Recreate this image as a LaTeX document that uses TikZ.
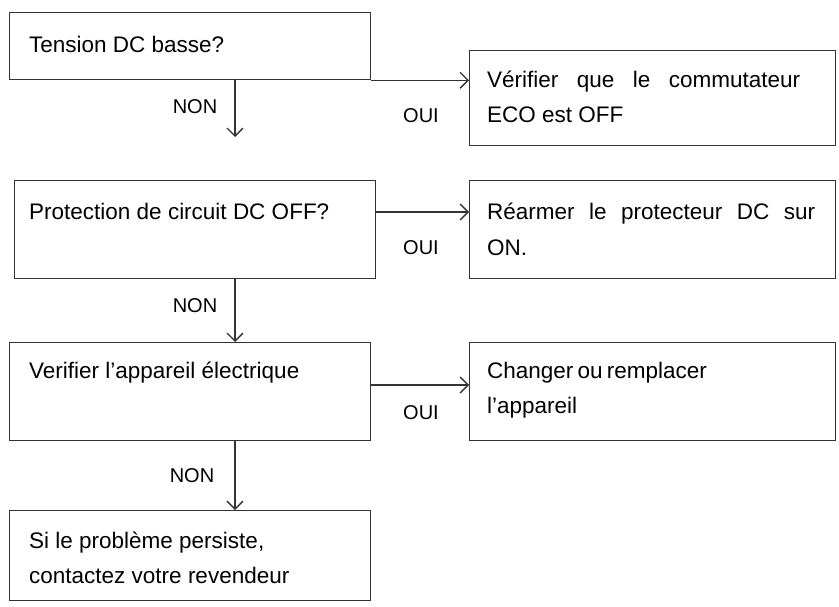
\documentclass[tikz,border=0pt]{standalone}
\usepackage{fontspec}
\setmainfont{Liberation Sans}
\usetikzlibrary{arrows.meta}
\begin{document}
\begin{tikzpicture}[x=1pt,y=-1pt,
  box/.style={draw=black!80,line width=1.3pt,anchor=north west,inner sep=0pt},
  txt/.style={anchor=base west,inner sep=0pt,font=\fontsize{22.5}{35}\selectfont},
  lbl/.style={font=\fontsize{20}{22}\selectfont,inner sep=0pt},
  flow/.style={draw=black!80,line width=1.3pt,-{Straight Barb[length=8pt,width=16pt,line width=1.3pt]}}]
\useasboundingbox (0,0) rectangle (839,607);

% questions
\node[box,minimum width=361pt,minimum height=67pt] (q1) at (9,12) {};
\node[box,minimum width=361pt,minimum height=98pt] (q2) at (14,180) {};
\node[box,minimum width=361pt,minimum height=98pt] (q3) at (9,342) {};
\node[box,minimum width=361pt,minimum height=90pt] (q4) at (9,510) {};
% actions
\node[box,minimum width=366pt,minimum height=95pt] (a1) at (469,50) {};
\node[box,minimum width=366pt,minimum height=98pt] (a2) at (469,180) {};
\node[box,minimum width=366pt,minimum height=98pt] (a3) at (469,342) {};

% texts
\node[txt] (tq1) at (29,53) {Tension DC basse?};
\node[txt] (tq2) at (29,220) {Protection de circuit DC OFF?};
\node[txt] (tq3) at (29,378) {Verifier l'appareil électrique};
\node[txt] (tq4a) at (29,548) {Si le problème persiste,};
\node[txt] (tq4b) at (29,583) {contactez votre revendeur};
\node[txt] (ta1a) at (487,88) {\makebox[313pt][s]{Vérifier que le commutateur}};
\node[txt] (ta1b) at (487,123) {ECO est OFF};
\node[txt] (ta2a) at (487,220) {\makebox[328pt][s]{Réarmer le protecteur DC sur}};
\node[txt] (ta2b) at (487,255) {ON.};
\node[txt] (ta3a) at (487,378) {\makebox[218pt][s]{Changer ou remplacer}};
\node[txt] (ta3b) at (487,413) {l'appareil};

% connectors
\draw[flow] (q1.south east) -- (a1.west |- q1.south east);
\draw[flow] (q2.east |- 0,212) -- (a2.west |- 0,212);
\draw[flow] (q3.east |- 0,385) -- (a3.west |- 0,385);
\draw[flow] (q1.south -| 235,0) -- (235,137);
\draw[flow] (q2.south -| 235,0) -- (q3.north -| 235,0);
\draw[flow] (q3.south -| 235,0) -- (q4.north -| 235,0);

% labels
\node[lbl] (n1) at (195,107) {NON};
\node[lbl] (n2) at (195,306) {NON};
\node[lbl] (n3) at (192,476) {NON};
\node[lbl] (o1) at (421,116) {OUI};
\node[lbl] (o2) at (421,248) {OUI};
\node[lbl] (o3) at (421,413) {OUI};
\end{tikzpicture}
\end{document}
